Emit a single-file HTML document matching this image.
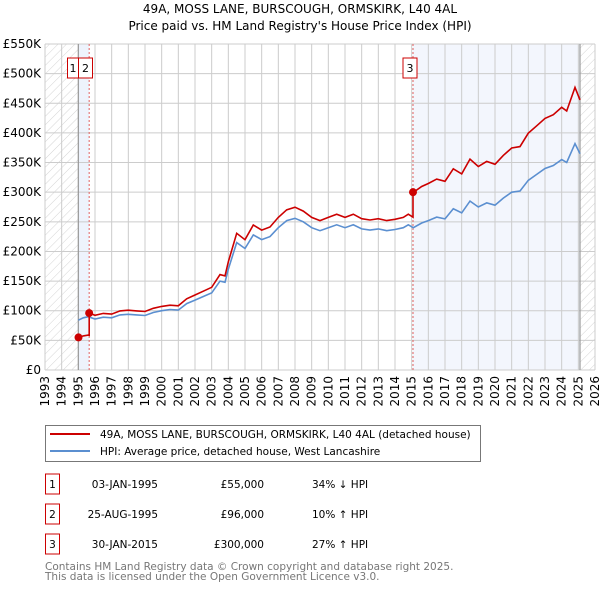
<!DOCTYPE html>
<html><head><meta charset="utf-8"><style>
body{margin:0;background:#fff;font-family:"DejaVu Sans","Liberation Sans",sans-serif;}
svg text{font-family:"DejaVu Sans","Liberation Sans",sans-serif;}
</style></head><body>
<svg id="c" width="600" height="590" xmlns="http://www.w3.org/2000/svg">
<defs><pattern id="hatch" width="6" height="6" patternUnits="userSpaceOnUse" patternTransform="rotate(45)"><line x1="0" y1="0" x2="0" y2="6" stroke="#d4d4d4" stroke-width="1"/></pattern></defs>
<text x="300" y="13" text-anchor="middle" font-size="12">49A, MOSS LANE, BURSCOUGH, ORMSKIRK, L40 4AL</text>
<text x="300" y="30" text-anchor="middle" font-size="12">Price paid vs. HM Land Registry's House Price Index (HPI)</text>
<g id="plot"></g>
<g>
<rect x="45.5" y="425.5" width="435" height="36" fill="#fff" stroke="#777"/>
<line x1="50" y1="434" x2="90" y2="434" stroke="#cc0000" stroke-width="2"/>
<text x="100" y="438" font-size="10.5">49A, MOSS LANE, BURSCOUGH, ORMSKIRK, L40 4AL (detached house)</text>
<line x1="50" y1="451" x2="90" y2="451" stroke="#5b8fd0" stroke-width="2"/>
<text x="100" y="455" font-size="10.5">HPI: Average price, detached house, West Lancashire</text>
</g>
<g id="table" font-size="10.5"></g>
<text x="45" y="570" font-size="10.5" fill="#777">Contains HM Land Registry data © Crown copyright and database right 2025.</text>
<text x="45" y="580" font-size="10.5" fill="#777">This data is licensed under the Open Government Licence v3.0.</text>
</svg>
<script>
const hpiYears=[1995.0,1995.3,1995.6,1996.0,1996.5,1997.0,1997.5,1998.0,1998.5,1999.0,1999.5,2000.0,2000.5,2001.0,2001.5,2002.0,2002.5,2003.0,2003.5,2003.8,2004.0,2004.5,2005.0,2005.5,2006.0,2006.5,2007.0,2007.5,2008.0,2008.5,2009.0,2009.5,2010.0,2010.5,2011.0,2011.5,2012.0,2012.5,2013.0,2013.5,2014.0,2014.5,2014.8,2015.1,2015.6,2016.0,2016.5,2017.0,2017.5,2018.0,2018.5,2019.0,2019.5,2020.0,2020.5,2021.0,2021.5,2022.0,2022.5,2023.0,2023.5,2024.0,2024.3,2024.8,2025.1];
const hpiValues=[84,88,90,86,89,88,93,94,93,92,97,100,102,101,112,118,124,130,150,148,170,215,205,228,220,225,240,252,256,250,240,235,240,245,240,245,238,236,238,235,237,240,245,240,248,252,258,255,272,265,285,275,282,278,290,300,302,320,330,340,345,355,350,382,365];
const saleYears=[1995.01,1995.65,2015.08];
const salePrices=[55,96,300];
const saleLabels=["1","2","3"];
const saleDates=["03-JAN-1995","25-AUG-1995","30-JAN-2015"];
const salePriceText=["£55,000","£96,000","£300,000"];
const saleHpiText=["34% ↓ HPI","10% ↑ HPI","27% ↑ HPI"];
const yTicks=[0,50,100,150,200,250,300,350,400,450,500,550];
const yTickLabels=["£0","£50K","£100K","£150K","£200K","£250K","£300K","£350K","£400K","£450K","£500K","£550K"];
const xTicks=[1993,1994,1995,1996,1997,1998,1999,2000,2001,2002,2003,2004,2005,2006,2007,2008,2009,2010,2011,2012,2013,2014,2015,2016,2017,2018,2019,2020,2021,2022,2023,2024,2025,2026];

const X0=45,X1=595,Y0=370,Y1=44;
const xs=y=>X0+(y-1993)/(2026-1993)*(X1-X0);
const ys=v=>Y0-v/550*(Y0-Y1);
const NS="http://www.w3.org/2000/svg";
const plot=document.getElementById('plot');
function mk(tag,attrs,parent){const e=document.createElementNS(NS,tag);for(const k in attrs)e.setAttribute(k,attrs[k]);(parent||plot).appendChild(e);return e;}
function hpiAt(t){if(t<=hpiYears[0])return hpiValues[0];for(let i=1;i<hpiYears.length;i++){if(t<=hpiYears[i]){const f=(t-hpiYears[i-1])/(hpiYears[i]-hpiYears[i-1]);return hpiValues[i-1]+f*(hpiValues[i]-hpiValues[i-1]);}}return hpiValues[hpiValues.length-1];}
let r=mk('rect',{x:X0,y:Y1,width:X1-X0,height:Y0-Y1,fill:'#fff'});

r=mk('rect',{x:xs(saleYears[0]),y:Y1,width:xs(saleYears[1])-xs(saleYears[0]),height:Y0-Y1,fill:'#eef3fc'});

r=mk('rect',{x:xs(saleYears[2]),y:Y1,width:xs(2025.1)-xs(saleYears[2]),height:Y0-Y1,fill:'#f3f6fd'});

r=mk('rect',{x:X0,y:Y1,width:xs(1995)-X0,height:Y0-Y1,fill:'url(#hatch)'});

r=mk('rect',{x:xs(2025.1),y:Y1,width:X1-xs(2025.1),height:Y0-Y1,fill:'url(#hatch)'});

yTicks.forEach((v,i)=>{
 const l=mk('line',{x1:X0,x2:X1,y1:ys(v),y2:ys(v),stroke:'#ccc','stroke-width':1});
 
 const t=mk('text',{x:X0-4,y:ys(v)+4,'text-anchor':'end','font-size':12});t.textContent=yTickLabels[i];
 
});
xTicks.forEach(y=>{
 const l=mk('line',{x1:xs(y),x2:xs(y),y1:Y1,y2:Y0,stroke:'#ccc','stroke-width':1});
 
 const t=mk('text',{x:0,y:0,'text-anchor':'end','font-size':12,transform:`translate(${xs(y)+4},${Y0+6}) rotate(-90)`});t.textContent=y;
 
});
let l=mk('line',{x1:xs(1995),x2:xs(1995),y1:Y1,y2:Y0,stroke:'#999','stroke-width':1.2});

l=mk('line',{x1:xs(2025.1),x2:xs(2025.1),y1:Y1,y2:Y0,stroke:'#999','stroke-width':1.2});

saleYears.forEach((s,i)=>{ if(i===0)return;
 const v=mk('line',{x1:xs(s),x2:xs(s),y1:Y1,y2:Y0,stroke:'#e06060','stroke-width':1,'stroke-dasharray':'2,2'});
 
});
let d='';
hpiYears.forEach((y,i)=>{d+=(i?'L':'M')+xs(y).toFixed(1)+','+ys(hpiValues[i]).toFixed(1);});
let p=mk('path',{d:d,fill:'none',stroke:'#5b8fd0','stroke-width':1.6});

function scaleFor(t){let k=0;for(let i=0;i<saleYears.length;i++)if(t>=saleYears[i])k=i;return salePrices[k]/hpiAt(saleYears[k]);}
let pts=[];
const ts=hpiYears.filter(t=>t>=saleYears[0]);
let all=[saleYears[0]].concat(ts).concat(saleYears.slice(1)).sort((a,b)=>a-b);
all.forEach(t=>{
 if(saleYears.includes(t)&&saleYears.indexOf(t)>0){const k=saleYears.indexOf(t);pts.push([t,hpiAt(t)*salePrices[k-1]/hpiAt(saleYears[k-1])]);}
 pts.push([t,hpiAt(t)*scaleFor(t)]);
});
d='';pts.forEach((q,i)=>{d+=(i?'L':'M')+xs(q[0]).toFixed(1)+','+ys(q[1]).toFixed(1);});
p=mk('path',{d:d,fill:'none',stroke:'#cc0000','stroke-width':1.6});

saleYears.forEach((s,i)=>{
 const c=mk('circle',{cx:xs(s),cy:ys(salePrices[i]),r:4,fill:'#cc0000'});
 
 const g=mk('rect',{x:xs(s)-10,y:58,width:14,height:20,fill:'#fff',stroke:'#cc0000','stroke-width':1});
 if(i===1){g.setAttribute('x',xs(saleYears[0]));g.setAttribute('width',14);}
 if(i===0){g.setAttribute('x',xs(s)-11);g.setAttribute('width',11);}
 
 const tx=parseFloat(g.getAttribute('x'))+parseFloat(g.getAttribute('width'))/2;
 const t=mk('text',{x:tx,y:72,'text-anchor':'middle','font-size':11});t.textContent=saleLabels[i];
 
});
const tb=document.getElementById('table');
saleLabels.forEach((lab,i)=>{
 const y=483+i*30;
 const b=mk('rect',{x:45.5,y:y-9,width:14,height:20,fill:'#fff',stroke:'#cc0000'},tb);
 
 let t=mk('text',{x:52.5,y:y+5,'text-anchor':'middle'},tb);t.textContent=lab;
 
 t=mk('text',{x:158,y:y+5,'text-anchor':'end'},tb);t.textContent=saleDates[i];
 
 t=mk('text',{x:264,y:y+5,'text-anchor':'end'},tb);t.textContent=salePriceText[i];
 
 t=mk('text',{x:312,y:y+5},tb);t.textContent=saleHpiText[i];
 
});
</script>
</body></html>
